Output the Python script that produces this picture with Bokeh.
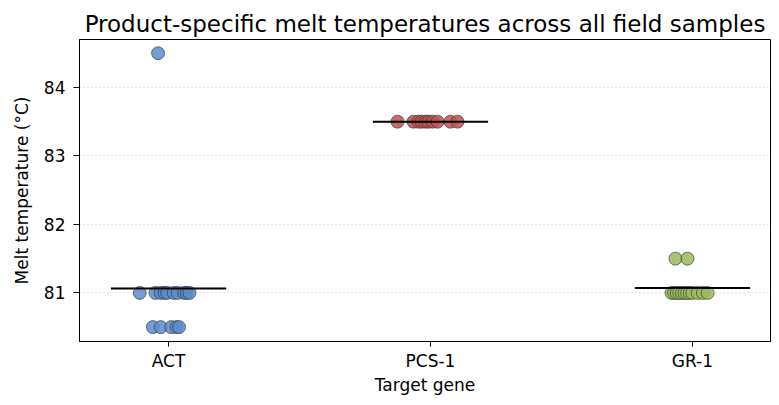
from bokeh.plotting import figure
from bokeh.models import ColumnDataSource, FixedTicker, Range1d
from bokeh.embed import file_html
from bokeh.resources import INLINE

genes = ["ACT", "PCS-1", "GR-1"]
colors = ["#5b8ccc", "#c0504d", "#9bbb59"]

act_tm = [84.5] + [81.0] * 10 + [80.5] * 5
act_jit = [-0.04, -0.11, -0.05, -0.03, -0.015, -0.005, 0.02, 0.035, 0.06, 0.07, 0.08,
           -0.06, -0.03, 0.01, 0.03, 0.04]
pcs_tm = [83.5] * 10
pcs_jit = [-0.126, -0.065, -0.046, -0.034, -0.019, -0.008, 0.008, 0.027, 0.076, 0.103]
gr_tm = [81.5, 81.5] + [81.0] * 12
gr_jit = [-0.065, -0.019, -0.08, -0.07, -0.06, -0.05, -0.04, -0.03, -0.02, -0.01,
          0.0, 0.02, 0.04, 0.058]

tm_values = [act_tm, pcs_tm, gr_tm]
jitters = [act_jit, pcs_jit, gr_jit]
y_ticks = [81, 82, 83, 84]

p = figure(width=771, height=397, output_backend="svg", toolbar_location=None,
           x_range=Range1d(-0.34, 2.298), y_range=Range1d(80.29, 84.70),
           min_border_left=79, min_border_right=1, min_border_top=39, min_border_bottom=50)

p.title.text = "Product-specific melt temperatures across all field samples"
p.title.text_font = "DejaVu Sans"
p.title.text_font_size = "23px"
p.title.text_font_style = "normal"
p.title.align = "center"
p.title.text_color = "#000000"
p.title.standoff = 5

for i, (tm, jit) in enumerate(zip(tm_values, jitters)):
    src = ColumnDataSource(dict(x=[i + j for j in jit], y=tm))
    p.scatter("x", "y", source=src, size=13, fill_color=colors[i], fill_alpha=0.85,
              line_color="#333333", line_alpha=0.8, line_width=0.8)
    m = sum(tm) / len(tm)
    p.segment(x0=[i - 0.22], x1=[i + 0.22], y0=[m], y1=[m], line_color="black", line_width=2)

p.xaxis.ticker = FixedTicker(ticks=[0, 1, 2])
p.xaxis.major_label_overrides = {0: genes[0], 1: genes[1], 2: genes[2]}
p.yaxis.ticker = FixedTicker(ticks=y_ticks)
p.xaxis.axis_label = "Target gene"
p.yaxis.axis_label = "Melt temperature (°C)"

for ax in [p.xaxis[0], p.yaxis[0]]:
    ax.axis_label_text_font = "DejaVu Sans"
    ax.axis_label_text_font_size = "17px"
    ax.axis_label_text_font_style = "normal"
    ax.axis_label_text_color = "#000000"
    ax.major_label_text_font = "DejaVu Sans"
    ax.major_label_text_font_size = "17px"
    ax.major_label_text_color = "#000000"
    ax.minor_tick_line_color = None
    ax.major_tick_in = 0
    ax.axis_line_color = "black"
    ax.major_tick_line_color = "black"

p.xaxis.major_tick_out = 5
p.xaxis.major_label_standoff = 4
p.xaxis.axis_label_standoff = 1
p.yaxis.major_tick_out = 6
p.yaxis.major_label_standoff = 8
p.yaxis.axis_label_standoff = 9

p.xgrid.grid_line_color = None
p.ygrid.grid_line_color = "#cccccc"
p.ygrid.grid_line_dash = "1 3"
p.ygrid.grid_line_width = 1
p.outline_line_color = "black"
p.outline_line_alpha = 1
p.background_fill_color = "white"
p.border_fill_color = "white"

open("out.html", "w").write(file_html(p, INLINE))
